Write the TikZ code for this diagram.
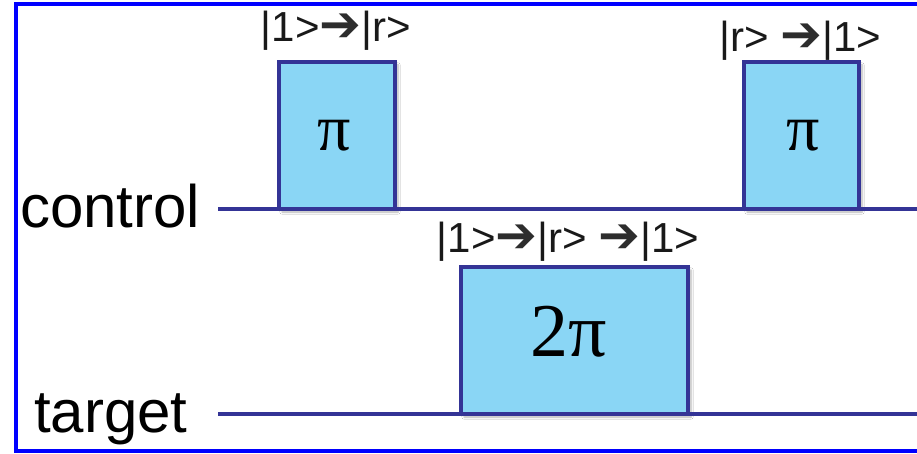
\documentclass[tikz,border=0pt]{standalone}
\usepackage{fontspec}
\setmainfont{Liberation Sans}
\newfontfamily\pifont{Liberation Serif}
\newfontfamily\arrfont{DejaVu Sans}
\usetikzlibrary{shadows.blur}
\definecolor{wire}{RGB}{52,52,150}
\definecolor{pulsefill}{RGB}{138,214,245}
\definecolor{framec}{RGB}{0,0,255}
\definecolor{arrc}{RGB}{45,45,45}
\newcommand{\ar}{{\arrfont\color{arrc}\fontsize{50}{50}\selectfont\char"2794}}
\tikzset{
  pulse/.style={draw=wire, fill=pulsefill, line width=3.2pt, inner sep=0pt, outer sep=0pt,
    blur shadow={shadow xshift=3pt, shadow yshift=-3pt, shadow blur steps=6, shadow opacity=30}},
  wireline/.style={draw=wire, line width=3.2pt},
  bigword/.style={font=\fontsize{60}{60}\selectfont, inner sep=0pt, anchor=base west},
  statelbl/.style={font=\fontsize{42}{42}\selectfont, inner sep=0pt, text=black!90},
  pitxt/.style={font=\pifont\fontsize{66}{66}\selectfont}
}
\begin{document}
\begin{tikzpicture}[x=1pt,y=-1pt]
\useasboundingbox (0,0) rectangle (917,454);
\clip (0,0) rectangle (917,454);
\fill[white] (0,0) rectangle (917,454);
% frame
\draw[framec, line width=3.5pt] (930,4) -- (16,4) -- (16,451) -- (930,451);
% wires
\coordinate (cs) at (218,209);
\coordinate (ce) at (925,209);
\coordinate (ts) at (218,414);
\coordinate (te) at (925,414);
\node[pulse, minimum width=116pt, minimum height=147pt] (p1) at (337,135.5) {};
\node[pulse, minimum width=115pt, minimum height=147pt] (p2) at (801.5,135.5) {};
\node[pulse, minimum width=227pt, minimum height=147pt] (p3) at (574.5,340.5) {};
\draw[wireline] (cs) -- (p1.south west);
\draw[wireline] (p1.south east) -- (p2.south west);
\draw[wireline] (p2.south east) -- (ce);
\draw[wireline] (ts) -- (p3.south west);
\draw[wireline] (p3.south east) -- (te);
% pulse areas
\node[pitxt] (pi1) at (334,136) {π};
\node[pitxt] (pi2) at (803,136) {π};
\node[pitxt, font=\pifont\fontsize{76}{76}\selectfont] (pi3) at (569,332) {2π};
% state labels
\node[statelbl] (l1) at (336,31) {|1>\ar|r>};
\node[statelbl] (l2) at (800,41) {|r> \ar|1>};
\node[statelbl] (l3) at (568,242) {|1>\ar|r> \ar|1>};
% channel names
\node[bigword] (ctl) at (20,227) {control};
\node[bigword] (tgt) at (34,432) {target};
\end{tikzpicture}
\end{document}
